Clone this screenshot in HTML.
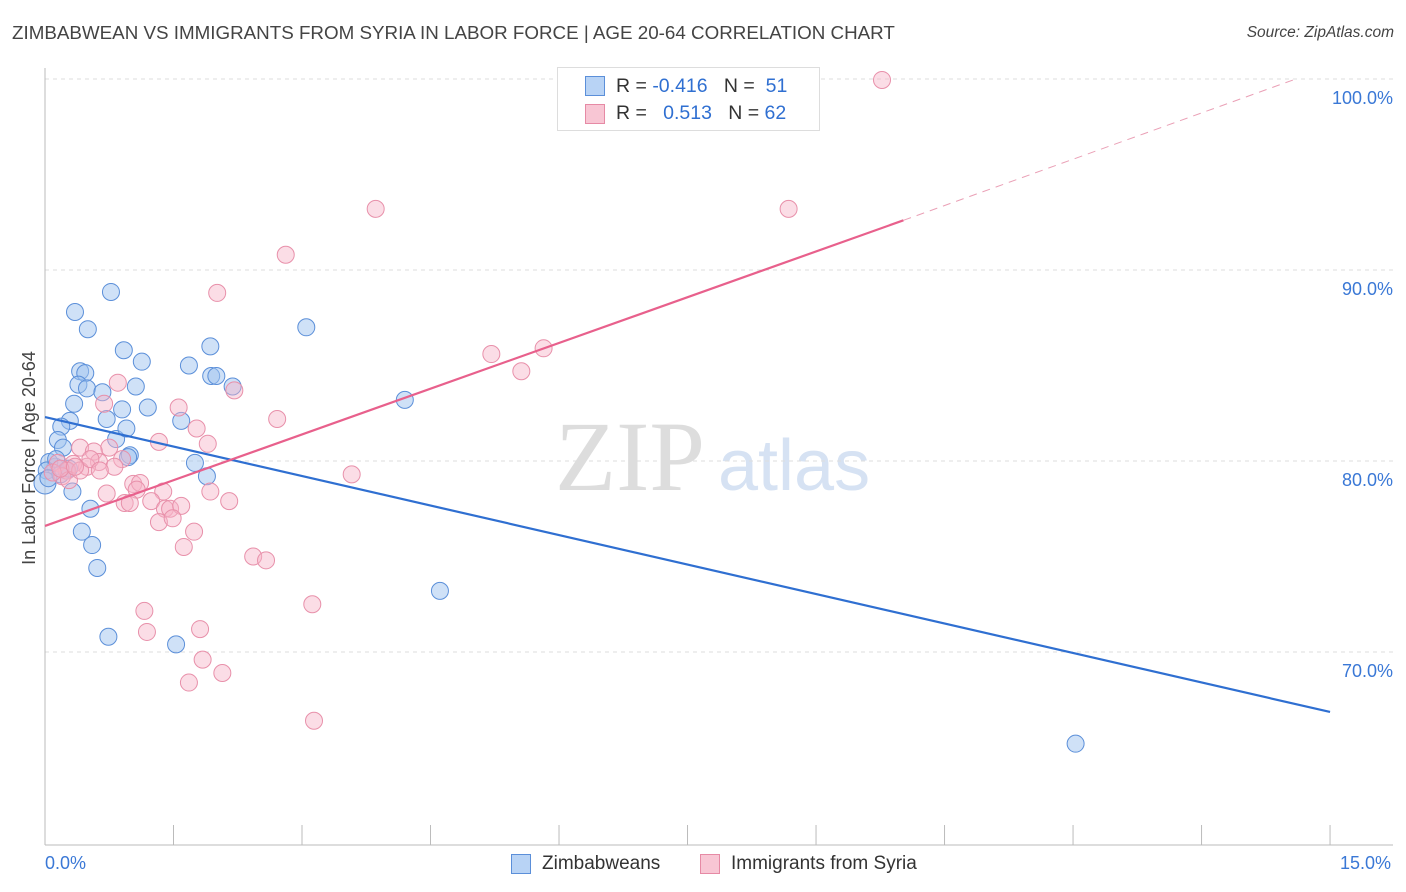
<!DOCTYPE html>
<html><head><meta charset="utf-8"><style>
body{margin:0;background:#fff;font-family:"Liberation Sans",sans-serif;}
#wrap{position:relative;width:1406px;height:892px;overflow:hidden;}
.t{position:absolute;white-space:nowrap;}
</style></head><body>
<div id="wrap">
<div class="t" style="left:12px;top:22px;font-size:18.8px;color:#444;">ZIMBABWEAN VS IMMIGRANTS FROM SYRIA IN LABOR FORCE | AGE 20-64 CORRELATION CHART</div>
<div class="t" style="right:12px;top:24px;font-size:15.5px;color:#444;font-style:italic;">Source: ZipAtlas.com</div>
<svg id="svg" width="1406" height="892" style="position:absolute;left:0;top:0">
<text x="555" y="490" font-family="Liberation Serif,serif" font-size="100" fill="#ddd">ZIP</text>
<text x="718" y="490" font-family="Liberation Sans,sans-serif" font-size="72" fill="#d6e2f3">atlas</text>
<g id="grid"></g><g id="pts"></g><g id="lines"></g>
<text x="35" y="458" transform="rotate(-90 35 458)" text-anchor="middle" font-size="18" fill="#444">In Labor Force | Age 20-64</text>
</svg>
<div style="position:absolute;left:557px;top:67px;width:261px;height:62px;border:1px solid #ddd;background:#fff;">
 <div style="position:absolute;left:27px;top:8px;width:18px;height:18px;background:#b8d3f5;border:1px solid #5b8fd9;"></div>
 <div class="t" style="left:58px;top:7px;font-size:19.5px;color:#333;">R = <span style="color:#2f6fd1">-0.416</span>&nbsp;&nbsp;&nbsp;N = &nbsp;<span style="color:#2f6fd1">51</span></div>
 <div style="position:absolute;left:27px;top:36px;width:18px;height:18px;background:#f8c6d4;border:1px solid #e68aa5;"></div>
 <div class="t" style="left:58px;top:34px;font-size:19.5px;color:#333;">R = &nbsp;&nbsp;<span style="color:#2f6fd1">0.513</span>&nbsp;&nbsp;&nbsp;N = <span style="color:#2f6fd1">62</span></div>
</div>
<div style="position:absolute;left:511px;top:854px;width:18px;height:18px;background:#b8d3f5;border:1px solid #5b8fd9;"></div>
<div class="t" style="left:542px;top:853px;font-size:19px;color:#333;">Zimbabweans</div>
<div style="position:absolute;left:700px;top:854px;width:18px;height:18px;background:#f8c6d4;border:1px solid #e68aa5;"></div>
<div class="t" style="left:731px;top:853px;font-size:19px;color:#333;">Immigrants from Syria</div>
<div class="t" style="left:45px;top:853px;font-size:18px;color:#3a78d6;">0.0%</div>
<div class="t" style="left:1340px;top:853px;font-size:18px;color:#3a78d6;">15.0%</div>
</div>
<script>
const blueX=[0.77,0.35,0.50,0.92,1.13,1.68,1.93,1.94,2.00,2.19,3.05,4.20,0.41,0.47,0.39,0.49,0.67,1.06,0.34,0.90,1.20,0.72,0.29,0.19,0.15,0.83,0.95,1.59,0.21,0.99,0.97,1.75,0.12,0.05,0.02,0.25,1.89,0.00,0.32,0.53,0.43,0.55,0.61,0.74,1.53,4.61,12.03,0.13,0.18,0.04,0.28];
const blueY=[88.85,87.8,86.9,85.8,85.2,85.0,86.0,84.45,84.45,83.9,87.0,83.2,84.7,84.6,84.0,83.8,83.6,83.9,83.0,82.7,82.8,82.2,82.1,81.8,81.1,81.15,81.7,82.1,80.7,80.3,80.2,79.9,79.7,79.95,79.5,79.5,79.2,78.85,78.4,77.5,76.3,75.6,74.4,70.8,70.4,73.2,65.2,80.1,79.3,79.1,79.6];
const pinkX=[9.77,3.86,8.68,2.81,2.01,5.21,5.82,5.56,0.85,2.21,0.69,1.56,2.71,1.77,1.33,1.90,0.41,0.75,0.57,0.90,0.63,0.49,0.81,0.33,0.15,0.26,0.20,0.09,3.58,0.28,1.93,0.72,1.03,1.11,1.07,1.38,0.93,0.99,2.15,1.24,1.40,1.46,1.59,1.33,1.49,1.74,1.62,2.43,2.58,3.12,1.16,1.19,1.81,1.84,2.07,1.68,3.14,0.41,0.53,0.64,0.18,0.35];
const pinkY=[99.95,93.2,93.2,90.8,88.8,85.6,85.9,84.7,84.1,83.7,83.0,82.8,82.2,81.7,81.0,80.9,80.7,80.7,80.5,80.1,79.95,79.7,79.7,79.85,79.9,79.5,79.2,79.4,79.3,79.0,78.4,78.3,78.8,78.85,78.5,78.4,77.8,77.8,77.9,77.9,77.5,77.5,77.65,76.8,77.0,76.3,75.5,75.0,74.8,72.5,72.15,71.05,71.2,69.6,68.9,68.4,66.4,79.5,80.1,79.5,79.6,79.7];
const yTicks=[100,90,80,70];
const yTickLabels=["100.0%","90.0%","80.0%","70.0%"];
const xTicks=[0,1.5,3,4.5,6,7.5,9,10.5,12,13.5,15];
const blueTrend=[[0,82.3],[15,66.86]];
const pinkTrend=[[0,76.6],[10.02,92.6]];
const pinkDash=[[10.02,92.6],[14.6,100]];
const NS="http://www.w3.org/2000/svg";
const xs=v=>45+v*85.67, ys=v=>79+(100-v)*19.1;
function mk(tag,attrs,parent){const e=document.createElementNS(NS,tag);for(const k in attrs)e.setAttribute(k,attrs[k]);parent.appendChild(e);return e;}
const grid=document.getElementById('grid'),pts=document.getElementById('pts'),lines=document.getElementById('lines');
yTicks.forEach((t,i)=>{
 const l=mk('line',{x1:45,x2:1393,y1:ys(t),y2:ys(t),stroke:'#ddd','stroke-dasharray':'4,4'},grid);
 
 
 const tx=mk('text',{x:1393,y:ys(t)+25,'text-anchor':'end','font-size':18,fill:'#3a78d6'},grid);
 tx.textContent=yTickLabels[i];
 
 
});
const ax=mk('line',{x1:45,x2:45,y1:68,y2:845,stroke:'#bbb'},grid);


const bx=mk('line',{x1:45,x2:1393,y1:845,y2:845,stroke:'#bbb'},grid);


xTicks.forEach(t=>{
 const l=mk('line',{x1:xs(t),x2:xs(t),y1:825,y2:845,stroke:'#bbb'},grid);
 
 
});
blueX.forEach((x,i)=>{
 const c=mk('circle',{cx:xs(x),cy:ys(blueY[i]),r:i==37?11:8.5,fill:'rgba(160,196,240,0.5)',stroke:'#5b8fd9','stroke-width':1},pts);
 
 
});
pinkX.forEach((x,i)=>{
 const c=mk('circle',{cx:xs(x),cy:ys(pinkY[i]),r:8.5,fill:'rgba(246,180,200,0.45)',stroke:'#e890aa','stroke-width':1},pts);
 
 
});
function ln(p,attrs,name){const l=mk('line',Object.assign({x1:xs(p[0][0]),y1:ys(p[0][1]),x2:xs(p[1][0]),y2:ys(p[1][1])},attrs),lines);
 
 }
ln(blueTrend,{stroke:'#2f6fd1','stroke-width':2.2},'zimbabwean-trendline');
ln(pinkTrend,{stroke:'#e8608c','stroke-width':2.2},'syria-trendline');
ln(pinkDash,{stroke:'#eaa0b6','stroke-width':1,'stroke-dasharray':'8,6'},'syria-trendline-extension');
</script>
</body></html>
